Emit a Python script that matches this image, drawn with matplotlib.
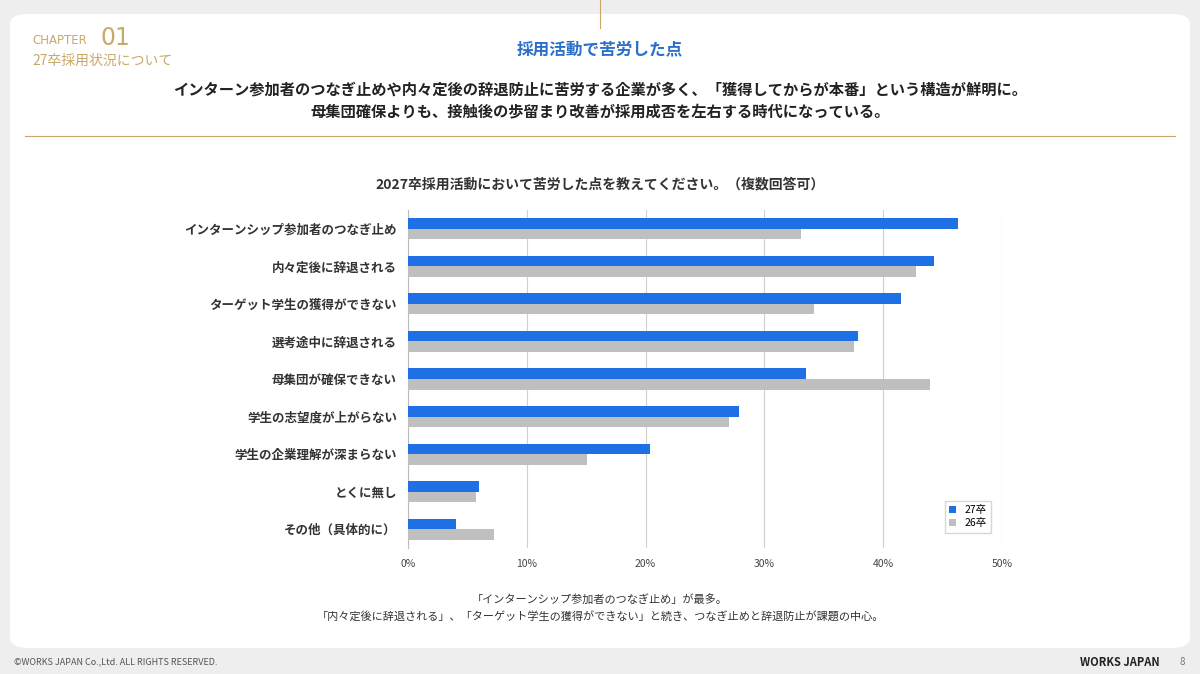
import matplotlib
matplotlib.use("Agg")
import matplotlib.pyplot as plt
from matplotlib.patches import FancyBboxPatch
import numpy as np

plt.rcParams['font.family'] = ['Noto Sans CJK JP', 'DejaVu Sans']

categories = ["インターンシップ参加者のつなぎ止め", "内々定後に辞退される", "ターゲット学生の獲得ができない",
              "選考途中に辞退される", "母集団が確保できない", "学生の志望度が上がらない",
              "学生の企業理解が深まらない", "とくに無し", "その他（具体的に）"]
s27 = [46.3, 44.3, 41.5, 37.9, 33.5, 27.9, 20.4, 6.0, 4.0]
s26 = [33.1, 42.8, 34.2, 37.5, 43.9, 27.0, 15.1, 5.7, 7.2]
xticks = [0, 10, 20, 30, 40, 50]

fig = plt.figure(figsize=(12, 6.74), dpi=100)
fig.patch.set_facecolor('#eeeeee')
panel = FancyBboxPatch((10/1200, 1-648/674), 1180/1200, 634/674, boxstyle="round,pad=0,rounding_size=0.015",
                       transform=fig.transFigure, facecolor='white', edgecolor='none', zorder=-5)
fig.patches.append(panel)

gold = '#c9a96a'
fig.text(32/1200, 1-41/674, "CHAPTER", color=gold, fontsize=8.5, va='center', family=['DejaVu Sans'])
fig.text(100/1200, 1-38/674, "01", color=gold, fontsize=17, va='center', family=['DejaVu Sans'])
fig.text(32/1200, 1-61/674, "27卒採用状況について", color=gold, fontsize=10, va='center')
fig.text(600/1200, 1-49/674, "採用活動で苦労した点", color='#2a6fc9', fontsize=12, weight='bold', ha='center', va='center')
fig.text(600/1200, 1-89/674, "インターン参加者のつなぎ止めや内々定後の辞退防止に苦労する企業が多く、「獲得してからが本番」という構造が鮮明に。",
         fontsize=11, weight='bold', ha='center', va='center', color='#222222')
fig.text(600/1200, 1-112/674, "母集団確保よりも、接触後の歩留まり改善が採用成否を左右する時代になっている。",
         fontsize=11, weight='bold', ha='center', va='center', color='#222222')
fig.add_artist(plt.Line2D([25/1200, 1175/1200], [1-136/674]*2, color=gold, lw=0.8, transform=fig.transFigure))
fig.add_artist(plt.Line2D([600/1200]*2, [1, 1-28/674], color=gold, lw=0.8, transform=fig.transFigure))
fig.text(600/1200, 1-184/674, "2027卒採用活動において苦労した点を教えてください。（複数回答可）",
         fontsize=10, weight='bold', ha='center', va='center', color='#333333')
fig.text(600/1200, 1-599/674, "「インターンシップ参加者のつなぎ止め」が最多。", fontsize=8, ha='center', va='center', color='#333333')
fig.text(600/1200, 1-617/674, "「内々定後に辞退される」、「ターゲット学生の獲得ができない」と続き、つなぎ止めと辞退防止が課題の中心。",
         fontsize=8, ha='center', va='center', color='#333333')
fig.text(14/1200, 1-662/674, "©WORKS JAPAN Co.,Ltd. ALL RIGHTS RESERVED.", fontsize=6.5, va='center', color='#555555')
fig.text(1160/1200, 1-662/674, "WORKS JAPAN", fontsize=8, weight='bold', ha='right', va='center', color='#222222')
fig.text(1185/1200, 1-662/674, "8", fontsize=7, ha='right', va='center', color='#777777')

ax = fig.add_axes([408/1200, 1-548/674, 594/1200, 338/674])
ax.set_zorder(5)
y = np.arange(len(categories))
h = 0.28
ax.barh(y - h/2, s27, height=h, color='#1f6fe5', label='27卒', zorder=3)
ax.barh(y + h/2, s26, height=h, color='#bfbfbf', label='26卒', zorder=3)
ax.set_ylim(len(categories) - 0.5, -0.5)
ax.set_xlim(0, 50)
ax.set_xticks(xticks)
ax.set_xticklabels([f"{t}%" for t in xticks], fontsize=7.5, color='#444444')
ax.set_yticks(y)
ax.set_yticklabels(categories, fontsize=9, weight='bold', color='#333333')
ax.tick_params(length=0, pad=8)
ax.grid(axis='x', color='#d0d0d0', lw=0.8, zorder=0)
for s in ['top', 'right', 'bottom']:
    ax.spines[s].set_visible(False)
ax.spines['left'].set_color('#bbbbbb')
leg = ax.legend(loc='lower right', bbox_to_anchor=(0.99, 0.03), fontsize=7.5, frameon=True,
                handlelength=0.7, handleheight=0.7, borderpad=0.4, labelspacing=0.3, fancybox=False)
leg.get_frame().set_edgecolor('#cccccc')
fig.savefig("out.png", dpi=100, facecolor=fig.get_facecolor())
